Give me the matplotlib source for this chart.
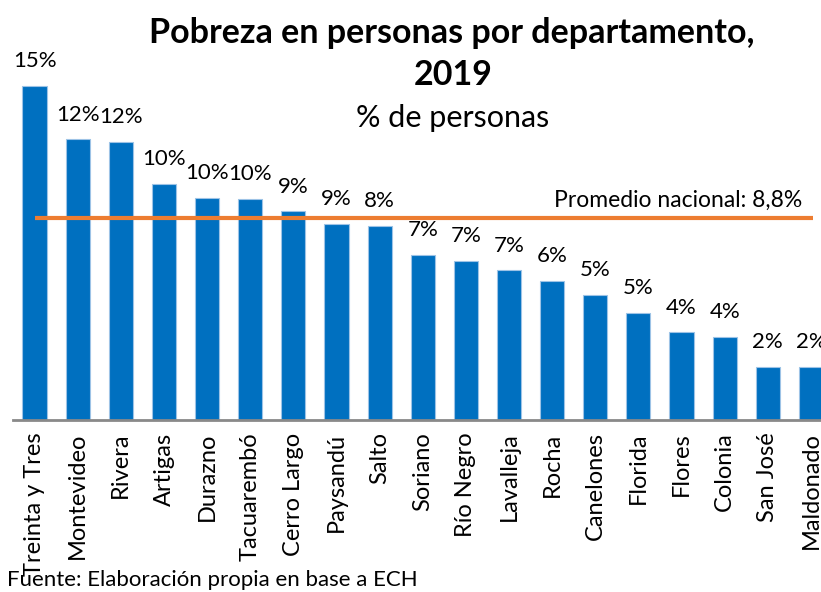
import numpy as np
import matplotlib.pyplot as plt

plt.rcParams['font.family'] = ['Lato', 'DejaVu Sans']

# datos: pobreza en personas (%) por departamento, 2019
departamentos = ["Treinta y Tres", "Montevideo", "Rivera", "Artigas", "Durazno",
                 "Tacuarembó", "Cerro Largo", "Paysandú", "Salto", "Soriano",
                 "Río Negro", "Lavalleja", "Rocha", "Canelones", "Florida",
                 "Flores", "Colonia", "San José", "Maldonado"]
pobreza = [14.55, 12.24, 12.11, 10.28, 9.67, 9.63, 9.1, 8.54, 8.45, 7.19,
           6.93, 6.52, 6.06, 5.45, 4.66, 3.83, 3.62, 2.31, 2.31]
promedio = 8.8

fig = plt.figure(figsize=(8.21, 5.92), dpi=100)
ax = fig.add_axes([13 / 821, 172 / 592, (832.5 - 13) / 821, 16.5 * 22.95 / 592])

x = np.arange(len(departamentos))
ax.bar(x, pobreza, width=0.56, color="#0070C0", edgecolor="#9DC3E6", linewidth=0.8)
ax.plot([x[0], x[-1] + 0.05], [promedio, promedio], color="#ED7D31", lw=3, solid_capstyle="butt")

for xi, v in zip(x, pobreza):
    ax.annotate(f"{round(v)}%", (xi, v), xytext=(0, 10.5), textcoords="offset points",
                ha="center", va="bottom", fontsize=16)

ax.text(x[-1] - 0.2, promedio + 0.3, "Promedio nacional: 8,8%", ha="right", va="bottom", fontsize=16.5)

ax.set_xlim(-0.5, len(departamentos) - 0.5)
ax.set_ylim(0, 16.5)
ax.set_xticks(x)
ax.set_xticklabels(departamentos, rotation=90, fontsize=17, va="top")
ax.tick_params(axis="x", length=0, pad=9)
ax.set_yticks([])
for s in ["top", "right", "left"]:
    ax.spines[s].set_visible(False)
ax.spines["bottom"].set_color("#898989")
ax.spines["bottom"].set_linewidth(2)

fig.text(452 / 821, 1 - 33 / 592, "Pobreza en personas por departamento,", ha="center", va="center",
         fontsize=24.5, fontweight="bold")
fig.text(453 / 821, 1 - 75 / 592, "2019", ha="center", va="center", fontsize=24.5, fontweight="bold")
fig.text(453 / 821, 1 - 118 / 592, "% de personas", ha="center", va="center", fontsize=22)
fig.text(7 / 821, 1 - 580 / 592, "Fuente: Elaboración propia en base a ECH", ha="left", va="center", fontsize=16)

fig.savefig("out.png", dpi=100)
